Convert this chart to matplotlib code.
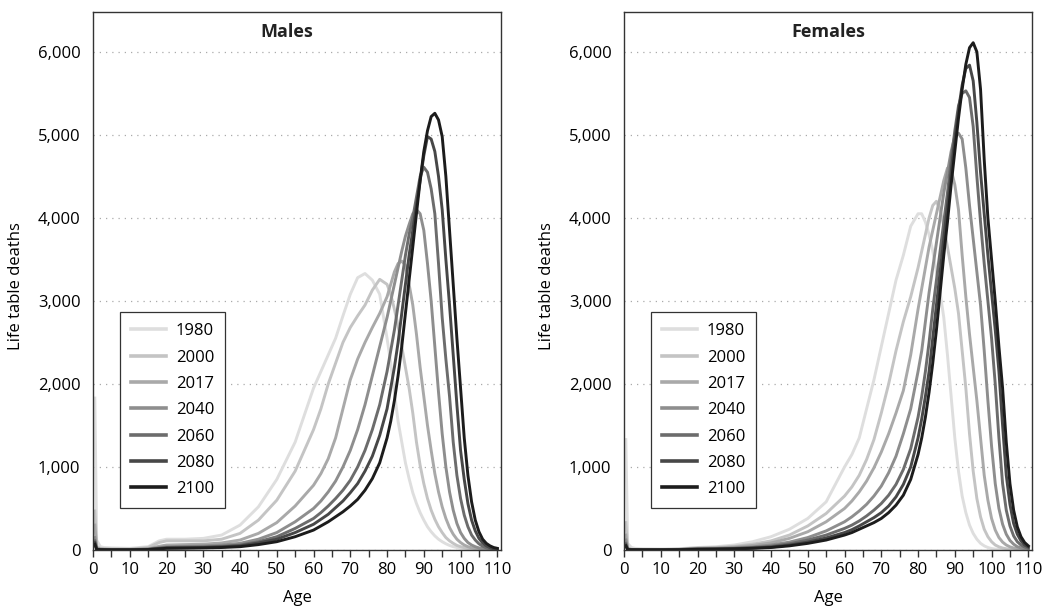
import matplotlib
matplotlib.use("Agg")
import matplotlib.pyplot as plt
from matplotlib.ticker import MultipleLocator, FuncFormatter

plt.rcParams['font.family'] = ['Open Sans', 'DejaVu Sans']

ages = [0.5, 1, 2, 3, 5, 10, 15, 18, 20, 25, 30, 35, 40, 45, 50, 55, 60, 62, 64, 66, 68, 70, 72, 74, 76, 78,
        80, 81, 82, 83, 84, 85, 86, 87, 88, 89, 90, 91, 92, 93, 94, 95, 96, 97, 98, 99,
        100, 101, 102, 103, 104, 105, 106, 107, 108, 109, 110]

years = ["1980", "2000", "2017", "2040", "2060", "2080", "2100"]
line_colors = ["#dedede", "#c4c4c4", "#a9a9a9", "#8e8e8e", "#6c6c6c", "#474747", "#1c1c1c"]

# Males
m_1980 = [1830, 120, 40, 30, 25, 20, 40, 110, 130, 130, 140, 180, 300, 520, 850, 1300, 1950, 2150, 2350, 2550, 2820, 3080, 3280, 3330, 3250, 3080,
          2550, 2250, 1900, 1550, 1300, 1050, 860, 690, 560, 450, 360, 280, 220, 170, 130, 100, 75, 55, 40, 30,
          20, 14, 10, 6, 4, 3, 2, 1, 1, 0, 0]
m_2000 = [470, 40, 20, 15, 12, 10, 30, 90, 110, 110, 110, 130, 200, 360, 600, 950, 1450, 1700, 2000, 2250, 2500, 2680, 2820, 2950, 3130, 3260,
          3200, 3080, 2900, 2700, 2450, 2200, 1950, 1650, 1300, 1020, 800, 620, 480, 370, 280, 210, 150, 110, 80, 55,
          40, 28, 18, 12, 8, 5, 3, 2, 1, 1, 0]
m_2017 = [300, 25, 12, 10, 8, 8, 15, 45, 60, 65, 70, 85, 120, 200, 330, 530, 780, 920, 1100, 1350, 1700, 2050, 2300, 2500, 2680, 2850,
          3050, 3200, 3350, 3450, 3480, 3430, 3200, 2950, 2600, 2200, 1850, 1500, 1200, 920, 700, 520, 380, 270, 190, 130,
          90, 60, 40, 26, 17, 11, 7, 4, 2, 1, 0]
m_2040 = [150, 15, 8, 6, 5, 5, 10, 30, 40, 45, 50, 60, 80, 130, 210, 340, 500, 590, 700, 830, 1000, 1200, 1450, 1750, 2100, 2450,
          2800, 3000, 3200, 3400, 3600, 3780, 3920, 4050, 4100, 4050, 3850, 3450, 3000, 2450, 1900, 1400, 1000, 700, 480, 320,
          210, 140, 90, 60, 40, 25, 15, 9, 5, 3, 1]
m_2060 = [110, 10, 6, 5, 4, 4, 8, 22, 30, 35, 38, 45, 60, 100, 160, 260, 380, 450, 530, 620, 720, 840, 1000, 1200, 1450, 1750,
          2150, 2400, 2650, 2950, 3250, 3550, 3800, 4000, 4250, 4500, 4610, 4550, 4350, 4050, 3450, 2800, 2300, 1850, 1300, 900,
          620, 420, 280, 180, 120, 75, 45, 25, 15, 8, 3]
m_2080 = [90, 8, 5, 4, 3, 3, 6, 18, 25, 28, 30, 38, 50, 85, 130, 210, 310, 370, 430, 510, 590, 690, 800, 950, 1130, 1380,
          1700, 1950, 2200, 2500, 2850, 3200, 3550, 3850, 4150, 4450, 4750, 4980, 4950, 4800, 4500, 4100, 3500, 2950, 2350, 1750,
          1200, 850, 560, 360, 230, 140, 85, 50, 28, 15, 8]
m_2100 = [70, 6, 4, 3, 2, 2, 5, 14, 20, 22, 25, 30, 40, 65, 100, 160, 240, 290, 340, 400, 460, 530, 610, 720, 860, 1050,
          1350, 1550, 1800, 2100, 2450, 2850, 3250, 3650, 4050, 4450, 4800, 5050, 5220, 5260, 5180, 4980, 4500, 3850, 3200, 2550,
          1950, 1350, 900, 580, 360, 220, 130, 80, 50, 30, 20]

# Females
f_1980 = [1330, 80, 30, 20, 15, 12, 15, 25, 30, 40, 60, 100, 160, 250, 380, 580, 1000, 1150, 1350, 1700, 2050, 2450, 2850, 3250, 3550, 3900,
          4050, 4050, 3950, 3800, 3600, 3350, 3100, 2800, 2350, 1850, 1350, 950, 650, 450, 300, 200, 130, 80, 50, 30,
          18, 11, 7, 4, 2, 1, 1, 0, 0, 0, 0]
f_2000 = [330, 25, 10, 7, 5, 5, 10, 20, 25, 30, 45, 70, 110, 180, 290, 440, 650, 760, 900, 1090, 1330, 1650, 2000, 2400, 2750, 3050,
          3400, 3600, 3800, 4000, 4150, 4200, 4100, 3900, 3650, 3400, 3150, 2850, 2400, 1950, 1400, 950, 620, 400, 250, 160,
          100, 60, 38, 24, 15, 9, 5, 3, 2, 1, 0]
f_2017 = [180, 14, 7, 5, 4, 4, 8, 15, 20, 25, 35, 55, 85, 140, 220, 340, 500, 590, 700, 830, 990, 1180, 1400, 1650, 1920, 2350,
          2900, 3150, 3400, 3650, 3850, 4050, 4250, 4450, 4600, 4580, 4400, 4100, 3550, 3050, 2600, 2200, 1800, 1350, 900, 600,
          380, 240, 150, 95, 60, 38, 24, 15, 9, 5, 3]
f_2040 = [120, 10, 5, 4, 3, 3, 6, 12, 15, 18, 25, 38, 60, 95, 150, 230, 340, 400, 470, 550, 650, 770, 930, 1130, 1400, 1700,
          2150, 2400, 2750, 3100, 3400, 3700, 4000, 4300, 4550, 4800, 4980, 5020, 4950, 4600, 4150, 3750, 3350, 2950, 2400, 1800,
          1250, 800, 500, 310, 190, 115, 70, 40, 25, 15, 8]
f_2060 = [80, 7, 4, 3, 3, 3, 5, 10, 12, 15, 20, 30, 45, 75, 120, 180, 260, 300, 350, 410, 480, 560, 660, 790, 970, 1220,
          1600, 1850, 2150, 2500, 2900, 3250, 3600, 3950, 4300, 4700, 5050, 5350, 5500, 5530, 5450, 5100, 4500, 3950, 3450, 3000,
          2550, 2000, 1350, 800, 480, 290, 170, 100, 60, 35, 20]
f_2080 = [60, 6, 4, 3, 2, 2, 4, 8, 10, 12, 16, 24, 35, 60, 95, 145, 210, 245, 290, 340, 390, 450, 530, 640, 790, 1000,
          1350, 1580, 1850, 2150, 2550, 2950, 3350, 3750, 4150, 4550, 4950, 5300, 5600, 5800, 5840, 5650, 5150, 4550, 4050, 3550,
          3100, 2650, 2150, 1500, 900, 550, 320, 190, 110, 60, 35]
f_2100 = [50, 5, 3, 3, 2, 2, 3, 6, 8, 10, 14, 20, 30, 50, 80, 120, 180, 210, 250, 290, 330, 380, 450, 540, 660, 850,
          1150, 1350, 1600, 1900, 2250, 2650, 3100, 3550, 3950, 4400, 4800, 5200, 5550, 5850, 6050, 6110, 6000, 5550, 4700, 4000,
          3500, 3000, 2450, 1950, 1300, 800, 480, 280, 160, 90, 50]

males = [m_1980, m_2000, m_2017, m_2040, m_2060, m_2080, m_2100]
females = [f_1980, f_2000, f_2017, f_2040, f_2060, f_2080, f_2100]


def draw_panel(ax, series, title, title_x):
    for vals, yr, col in zip(series, years, line_colors):
        ax.plot(ages, vals, color=col, lw=2.1, label=yr, solid_joinstyle="round")

    ax.set_xlim(0, 111)
    ax.set_ylim(0, 6480)
    ax.xaxis.set_major_locator(MultipleLocator(10))
    ax.xaxis.set_minor_locator(MultipleLocator(5))
    ax.yaxis.set_major_locator(MultipleLocator(1000))
    ax.yaxis.set_major_formatter(FuncFormatter(lambda v, p: f"{int(v):,}"))
    ax.tick_params(axis="x", which="both", direction="out", length=5, width=1, color="#333333",
                   labelsize=12, pad=4)
    ax.tick_params(axis="y", length=0, labelsize=12, pad=9)
    ax.yaxis.grid(True, linestyle=(0, (1, 4)), color="#aaaaaa", lw=0.9)
    ax.set_axisbelow(True)
    for sp in ax.spines.values():
        sp.set_color("#333333")
        sp.set_linewidth(1.0)

    ax.text(title_x, 0.962, title, transform=ax.transAxes, ha="center", va="center",
            fontsize=13, fontweight="bold", color="#222222")
    ax.set_ylabel("Life table deaths", fontsize=12)
    ax.yaxis.set_label_coords(-0.17, 0.49)
    ax.set_xlabel("Age", fontsize=12)
    ax.xaxis.set_label_coords(0.5, -0.075)

    leg = ax.legend(loc="lower left", bbox_to_anchor=(0.066, 0.078), fontsize=12,
                    frameon=True, fancybox=False, edgecolor="#333333", framealpha=1,
                    handlelength=2.1, handletextpad=0.6, labelspacing=0.62,
                    borderpad=0.65, borderaxespad=0)
    leg.get_frame().set_linewidth(0.9)
    for h in leg.get_lines():
        h.set_linewidth(2.6)


fig = plt.figure(figsize=(10.43, 6.08), dpi=100)
ax1 = fig.add_axes([93 / 1043, 58 / 608, 408 / 1043, 538 / 608])
ax2 = fig.add_axes([624 / 1043, 58 / 608, 408 / 1043, 538 / 608])

draw_panel(ax1, males, "Males", 0.475)
draw_panel(ax2, females, "Females", 0.5)

fig.savefig("out.png", dpi=100)
